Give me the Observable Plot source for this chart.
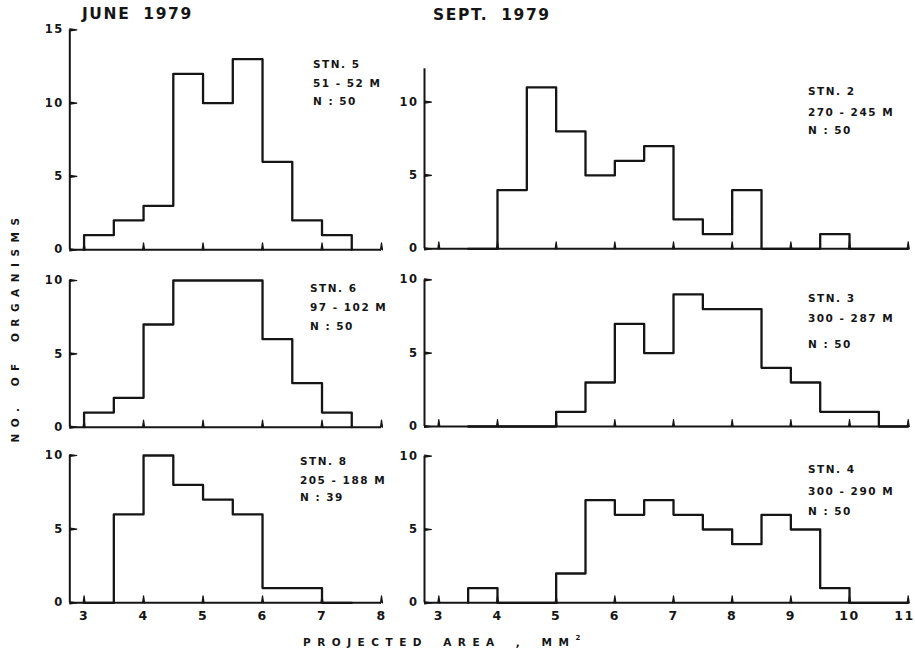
<!DOCTYPE html>
<html>
<head>
<meta charset="utf-8">
<script src="https://cdn.jsdelivr.net/npm/d3@7"></script>
<script src="https://cdn.jsdelivr.net/npm/@observablehq/plot@0.6"></script>
<style>
  html, body { margin: 0; padding: 0; background: #fff; }
  #chart { position: relative; width: 915px; height: 651px; overflow: hidden; background: #fff;
           font-family: "DejaVu Sans", sans-serif; font-weight: bold; color: #151515; }
  #chart svg { position: absolute; left: 0; top: 0; }
  .lbl { position: absolute; white-space: nowrap; line-height: 1; }
  .title { font-size: 15.5px; letter-spacing: 1.6px; word-spacing: 6px; }
  .stn { font-size: 10.5px; letter-spacing: 1.5px; }
  .axt { font-size: 10.5px; letter-spacing: 6.5px; word-spacing: 5px; }
  .axt sup { font-size: 7px; letter-spacing: 0; position: relative; top: -1px; }
</style>
</head>
<body>
<div id="chart"></div>
<script>
// ---------- data ----------
const binWidth = 0.5;
const juneBins = [3, 3.5, 4, 4.5, 5, 5.5, 6, 6.5, 7];
const stn5 = [1, 2, 3, 12, 10, 13, 6, 2, 1];
const stn6 = [1, 2, 7, 10, 10, 10, 6, 3, 1];
const stn8 = [0, 6, 10, 8, 7, 6, 1, 1, 0];

const septBins = [3.5, 4, 4.5, 5, 5.5, 6, 6.5, 7, 7.5, 8, 8.5, 9, 9.5, 10, 10.5];
const stn2 = [0, 4, 11, 8, 5, 6, 7, 2, 1, 4, 0, 0, 1, 0, 0];
const stn3 = [0, 0, 0, 1, 3, 7, 5, 9, 8, 8, 4, 3, 1, 1, 0];
const stn4 = [1, 0, 0, 2, 7, 6, 7, 6, 5, 4, 6, 5, 1, 0, 0];

const juneTicks = [3, 4, 5, 6, 7, 8];
const septTicks = [3, 4, 5, 6, 7, 8, 9, 10, 11];
const yTicks15 = [0, 5, 10, 15];
const yTicks10 = [0, 5, 10];

const columnTitles = ["JUNE 1979", "SEPT. 1979"];
const stationLabels = [
  ["STN. 5", "51 - 52 M", "N : 50"],
  ["STN. 2", "270 - 245 M", "N : 50"],
  ["STN. 6", "97 - 102 M", "N : 50"],
  ["STN. 3", "300 - 287 M", "N : 50"],
  ["STN. 8", "205 - 188 M", "N : 39"],
  ["STN. 4", "300 - 290 M", "N : 50"]
];
const yTitle = "NO. OF ORGANISMS";
const xTitle = "PROJECTED AREA , MM";

// ---------- layout ----------
const W = 915, H = 651;
const INK = "#151515";
const TICK = 7; // px
const panels = [
  {bins: juneBins, counts: stn5, xDomain: [2.76, 8], yMax: 15, yTicks: yTicks15, xTicks: juneTicks, xLabels: false,
   left: 69.3, right: 381, top: 29.3, bottom: 249.3},
  {bins: septBins, counts: stn2, xDomain: [2.756, 11], yMax: 12.27, yTicks: yTicks10, xTicks: septTicks, xLabels: false,
   left: 424, right: 907.7, top: 68.3, bottom: 248.3},
  {bins: juneBins, counts: stn6, xDomain: [2.76, 8], yMax: 10, yTicks: yTicks10, xTicks: juneTicks, xLabels: false,
   left: 69.3, right: 381, top: 280, bottom: 426.7},
  {bins: septBins, counts: stn3, xDomain: [2.756, 11], yMax: 10, yTicks: yTicks10, xTicks: septTicks, xLabels: false,
   left: 424, right: 907.7, top: 279.3, bottom: 426},
  {bins: juneBins, counts: stn8, xDomain: [2.76, 8], yMax: 10, yTicks: yTicks10, xTicks: juneTicks, xLabels: true,
   left: 69.3, right: 381, top: 455, bottom: 602.3},
  {bins: septBins, counts: stn4, xDomain: [2.756, 11], yMax: 10, yTicks: yTicks10, xTicks: septTicks, xLabels: true,
   left: 424, right: 907.7, top: 455.7, bottom: 602.3}
];
const labelPos = [
  {left: 313, tops: [60, 79, 97]},
  {left: 808, tops: [87, 108, 126]},
  {left: 310, tops: [284, 303, 322]},
  {left: 808, tops: [294, 314, 340]},
  {left: 300, tops: [457, 476, 493]},
  {left: 808, tops: [465, 487, 507]}
];

const chart = document.getElementById("chart");

function drawPanel(p) {
  const last = p.bins[p.bins.length - 1];
  const pts = [{x: p.bins[0], y: 0}]
    .concat(p.bins.map((b, i) => ({x: b, y: p.counts[i]})))
    .concat([{x: last + binWidth, y: 0}]);
  const x0 = p.xDomain[0];
  const lastTick = p.xTicks[p.xTicks.length - 1];
  const marks = [
    Plot.ruleY([0], {stroke: INK, strokeWidth: 2}),
    Plot.ruleX([x0], {y1: 0, y2: p.yMax, stroke: INK, strokeWidth: 2}),
    // inward ticks, drawn as short vectors anchored on the axis
    Plot.vector(p.xTicks, {x: d => d, y: 0, anchor: "start", rotate: 0, length: TICK,
                           shape: "spike", r: 1, stroke: INK, fill: INK, strokeWidth: 1.2}),
    Plot.vector(p.yTicks, {x: x0, y: d => d, anchor: "start", rotate: 90, length: TICK,
                           shape: "spike", r: 1, stroke: INK, fill: INK, strokeWidth: 1.2}),
    Plot.line(pts, {x: "x", y: "y", curve: "step-after", stroke: INK, strokeWidth: 2.3}),
    Plot.text(p.yTicks, {x: x0, y: d => d, text: d => String(d), dx: -6, textAnchor: "end",
                         fontSize: 11.5, fontWeight: "bold", fill: INK})
  ];
  if (p.xLabels) {
    const edge = lastTick === 11;
    marks.push(Plot.text(edge ? p.xTicks.slice(0, -1) : p.xTicks,
      {x: d => d, y: 0, text: d => String(d), dy: 13, fontSize: 12.5, fontWeight: "bold", fill: INK}));
    if (edge) {
      marks.push(Plot.text([lastTick],
        {x: d => d, y: 0, text: d => String(d), dy: 13, dx: 6.5, textAnchor: "end",
         fontSize: 12.5, fontWeight: "bold", fill: INK}));
    }
  }
  const svg = Plot.plot({
    width: W, height: H,
    marginLeft: p.left, marginRight: W - p.right, marginTop: p.top, marginBottom: H - p.bottom,
    x: {domain: p.xDomain, axis: null},
    y: {domain: [0, p.yMax], axis: null},
    style: {background: "transparent", fontFamily: "DejaVu Sans, sans-serif", letterSpacing: "1.5px", overflow: "visible"},
    marks
  });
  chart.appendChild(svg);
}
panels.forEach(drawPanel);

function addLabel(text, cls, left, top) {
  const d = document.createElement("div");
  d.className = "lbl " + cls;
  d.textContent = text;
  d.style.left = left + "px";
  d.style.top = top + "px";
  chart.appendChild(d);
  return d;
}

// column titles
addLabel(columnTitles[0], "title", 82, 6.5);
addLabel(columnTitles[1], "title", 433, 8);

// station annotations
stationLabels.forEach((lines, i) => {
  lines.forEach((t, j) => addLabel(t, "stn", labelPos[i].left, labelPos[i].tops[j] - 1.2));
});

// y axis title (rotated)
const yt = addLabel(yTitle, "axt", 15, 327);
yt.style.transform = "translate(-50%, -50%) rotate(-90deg)";

// x axis title
const xt = addLabel(xTitle, "axt", 303, 635.8);
const sup = document.createElement("sup");
sup.textContent = "2";
xt.appendChild(sup);
</script>
</body>
</html>
